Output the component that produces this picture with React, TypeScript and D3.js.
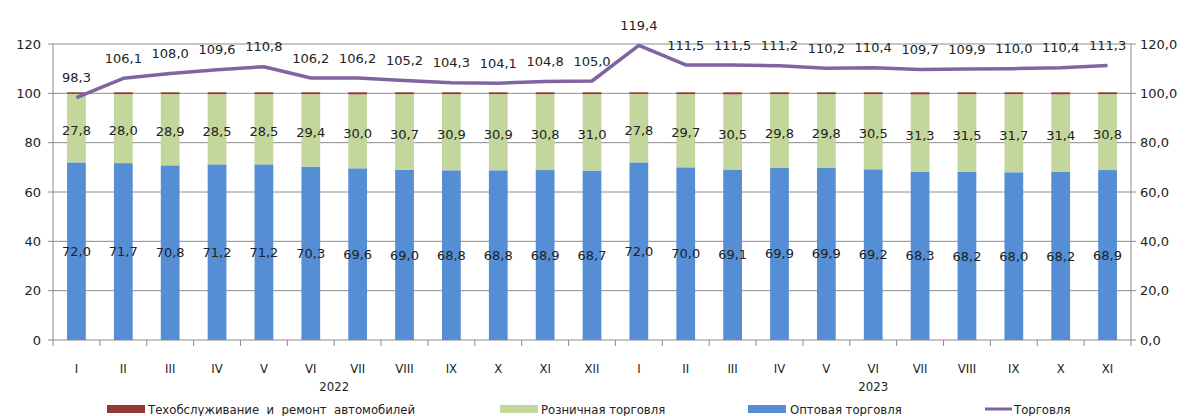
import React from 'react';
import * as d3 from 'd3';

const months = ['I', 'II', 'III', 'IV', 'V', 'VI', 'VII', 'VIII', 'IX', 'X', 'XI', 'XII',
  'I', 'II', 'III', 'IV', 'V', 'VI', 'VII', 'VIII', 'IX', 'X', 'XI'];
const years = [{ label: '2022', from: 0, to: 11 }, { label: '2023', from: 12, to: 22 }];

const wholesale = [72.0, 71.7, 70.8, 71.2, 71.2, 70.3, 69.6, 69.0, 68.8, 68.8, 68.9, 68.7,
  72.0, 70.0, 69.1, 69.9, 69.9, 69.2, 68.3, 68.2, 68.0, 68.2, 68.9];
const retail = [27.8, 28.0, 28.9, 28.5, 28.5, 29.4, 30.0, 30.7, 30.9, 30.9, 30.8, 31.0,
  27.8, 29.7, 30.5, 29.8, 29.8, 30.5, 31.3, 31.5, 31.7, 31.4, 30.8];
const service = [0.2, 0.3, 0.3, 0.3, 0.3, 0.3, 0.4, 0.3, 0.3, 0.3, 0.3, 0.3,
  0.2, 0.3, 0.4, 0.3, 0.3, 0.3, 0.4, 0.3, 0.3, 0.4, 0.3];
const trade = [98.3, 106.1, 108.0, 109.6, 110.8, 106.2, 106.2, 105.2, 104.3, 104.1, 104.8, 105.0,
  119.4, 111.5, 111.5, 111.2, 110.2, 110.4, 109.7, 109.9, 110.0, 110.4, 111.3];
const leftTicks = [0, 20, 40, 60, 80, 100, 120];

const BLUE = '#558ed5';
const GREEN = '#c3d69b';
const RED = '#953735';
const PURPLE = '#8064a2';
const GRID = '#8c8c8c';
const FONT = 'DejaVu Sans';
const NARROW = 'DejaVu Sans Condensed';

const W = 1189, H = 416;
const margin = { top: 44, right: 58, bottom: 76, left: 53 };

const App = () => {
  const idx = months.map((_, i) => i);
  const x = d3.scaleBand<number>()
    .domain(idx)
    .range([margin.left, W - margin.right])
    .paddingInner(0.6)
    .paddingOuter(0.3);
  const y = d3.scaleLinear().domain([0, 120]).range([H - margin.bottom, margin.top]);

  const stacked = idx.map(i => {
    const b0 = 0, b1 = wholesale[i];
    const g1 = b1 + retail[i];
    const r1 = g1 + service[i];
    return { i, b0, b1, g1, r1 };
  });

  const line = d3.line<number>()
    .x((_, i) => x(i)! + x.bandwidth() / 2)
    .y(d => y(d));

  const catW = (W - margin.right - margin.left) / months.length;
  const catLeft = (i: number) => margin.left + i * catW;
  const fmt = (v: number) => v.toFixed(1).replace('.', ',');

  return (
    <svg width={W} height={H} style={{ position: 'absolute', left: 0, top: 0, background: '#fff' }}>
      {/* grid */}
      {leftTicks.filter(t => t > 0).map(t => (
        <line key={t} x1={margin.left} x2={W - margin.right} y1={y(t)} y2={y(t)} stroke={GRID} strokeWidth={1} />
      ))}
      {/* axes */}
      <line x1={margin.left} x2={margin.left} y1={y(120)} y2={y(0)} stroke={GRID} />
      <line x1={W - margin.right} x2={W - margin.right} y1={y(120)} y2={y(0)} stroke={GRID} />
      <line x1={margin.left} x2={W - margin.right} y1={y(0)} y2={y(0)} stroke={GRID} />
      {leftTicks.map(t => (
        <g key={'t' + t}>
          <line x1={margin.left - 5} x2={margin.left} y1={y(t)} y2={y(t)} stroke={GRID} />
          <line x1={W - margin.right} x2={W - margin.right + 5} y1={y(t)} y2={y(t)} stroke={GRID} />
          <text x={41} y={y(t)} dy="0.36em" textAnchor="end" fontFamily={FONT} fontSize={13} fill="#222">{t}</text>
          <text x={W - margin.right + 9} y={y(t)} dy="0.36em" textAnchor="start" fontFamily={FONT} fontSize={13} fill="#222">{fmt(t)}</text>
        </g>
      ))}
      {d3.range(months.length + 1).map(i => (
        <line key={'bt' + i} x1={catLeft(i)} x2={catLeft(i)} y1={y(0)} y2={y(0) + 6} stroke={GRID} />
      ))}
      {/* bars */}
      {stacked.map(d => (
        <g key={'b' + d.i}>
          <rect x={x(d.i)} width={x.bandwidth()} y={y(d.b1)} height={y(d.b0) - y(d.b1)} fill={BLUE} />
          <rect x={x(d.i)} width={x.bandwidth()} y={y(d.g1)} height={y(d.b1) - y(d.g1)} fill={GREEN} />
          <rect x={x(d.i)} width={x.bandwidth()} y={y(d.r1) - 1} height={Math.max(y(d.g1) - y(d.r1), 0) + 1} fill={RED} />
          <text x={x(d.i)! + x.bandwidth() / 2} y={y((d.b0 + d.b1) / 2)} dy="0.36em" textAnchor="middle"
            fontFamily={FONT} fontSize={13} fill="#222">{fmt(wholesale[d.i])}</text>
          <text x={x(d.i)! + x.bandwidth() / 2} y={y((d.b1 + d.g1) / 2) + 2} dy="0.36em" textAnchor="middle"
            fontFamily={FONT} fontSize={13} fill="#222">{fmt(retail[d.i])}</text>
        </g>
      ))}
      {/* line */}
      <path d={line(trade)!} fill="none" stroke={PURPLE} strokeWidth={3.5} strokeLinejoin="round" />
      {trade.map((v, i) => (
        <text key={'l' + i} x={x(i)! + x.bandwidth() / 2} y={y(v) - 20} dy="0.36em" textAnchor="middle"
          fontFamily={FONT} fontSize={13} fill="#222">{fmt(v)}</text>
      ))}
      {/* category labels */}
      {months.map((m, i) => (
        <text key={'m' + i} x={catLeft(i) + catW / 2} y={368} dy="0.36em" textAnchor="middle"
          fontFamily={NARROW} fontSize={13} fill="#222">{m}</text>
      ))}
      {years.map(yr => (
        <text key={yr.label} x={(catLeft(yr.from) + catLeft(yr.to + 1)) / 2} y={386} dy="0.36em" textAnchor="middle"
          fontFamily={NARROW} fontSize={13} fill="#222">{yr.label}</text>
      ))}
      {/* legend */}
      <g fontFamily={NARROW} fontSize={13} fill="#222">
        <rect x={107} y={405} width={38} height={8} fill={RED} />
        <text x={148} y={409} dy="0.36em" xmlSpace="preserve">{'Техобслуживание  и  ремонт  автомобилей'}</text>
        <rect x={500} y={405} width={38} height={8} fill={GREEN} />
        <text x={541} y={409} dy="0.36em">Розничная торговля</text>
        <rect x={748} y={405} width={38} height={8} fill={BLUE} />
        <text x={790} y={409} dy="0.36em">Оптовая торговля</text>
        <line x1={985} x2={1012} y1={409} y2={409} stroke={PURPLE} strokeWidth={3} />
        <text x={1014} y={409} dy="0.36em">Торговля</text>
      </g>
    </svg>
  );
};

export default App;
